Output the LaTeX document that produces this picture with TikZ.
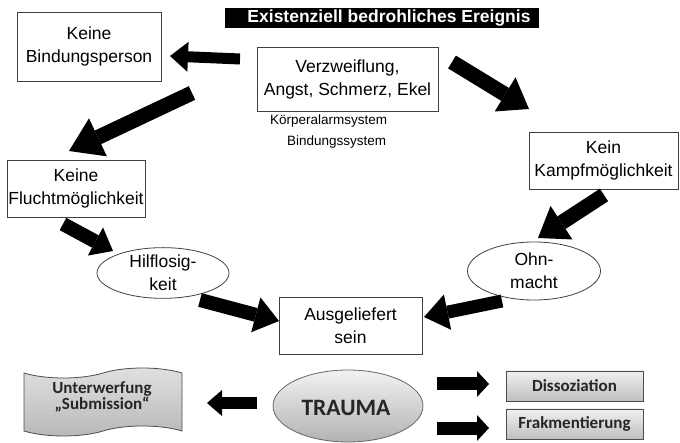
\documentclass[tikz,border=0pt]{standalone}
\usepackage{fontspec}
\setmainfont{Liberation Sans}
\newfontfamily\calib{Carlito}
\usetikzlibrary{arrows.meta,shapes.geometric,shapes.symbols}

\tikzset{
  plainbox/.style={draw=black!75, line width=0.8pt, fill=white, align=center,
    inner sep=0pt, font=\fontsize{17.5}{23}\selectfont},
  oval/.style={ellipse, draw=black!75, line width=0.8pt, fill=white, align=center,
    inner sep=0pt, font=\fontsize{17.5}{23}\selectfont},
  note/.style={font=\fontsize{13.5}{16}\selectfont, inner sep=0pt},
  greybox/.style={draw=black!70, line width=0.8pt, top color=black!6, bottom color=black!25,
    inner sep=0pt, font=\calib\bfseries\fontsize{17}{21}\selectfont, text=black!85},
  fat/.style args={#1/#2/#3}{draw=black, line width=#1,
    -{Triangle[length=#3, width=#2, line width=0pt]}},
}

\begin{document}
\begin{tikzpicture}[x=1pt, y=-1pt]
\useasboundingbox (0,0) rectangle (680,443);

% title banner
\node[fill=black, minimum width=314, minimum height=20, inner sep=0pt] (banner) at (382,18) {};
\node[text=white, font=\bfseries\fontsize{17.5}{20}\selectfont, inner sep=0pt] (bannertext) at (389,18.5)
  {Existenziell bedrohliches Ereignis};

% upper cycle
\node[plainbox, minimum width=181, minimum height=64] (verz) at (347.5,79) {Verzweiflung,\\Angst, Schmerz, Ekel};
\node[note, anchor=west] (koerper) at (270,121) {Körperalarmsystem};
\node[note, anchor=west] (bindsys) at (287,142) {Bindungssystem};

\node[plainbox, minimum width=144, minimum height=69] (bind) at (89,46.5) {Keine\\Bindungsperson};
\node[plainbox, minimum width=138, minimum height=57] (flucht) at (76,188.5) {Keine\\Fluchtmöglichkeit};
\node[plainbox, minimum width=149, minimum height=57] (kampf) at (603.5,160.5) {Kein\\Kampfmöglichkeit};

\node[oval, minimum width=132, minimum height=48] (hilf) at (163,273) {Hilflosig-\\keit};
\node[oval, minimum width=133, minimum height=58] (ohn) at (534,271) {Ohn-\\macht};

\node[plainbox, minimum width=143, minimum height=57] (ausg) at (350.5,325.5) {Ausgeliefert\\sein};

% arrow end points
\coordinate (a1s) at (240,59);   \coordinate (a1e) at (170,56);
\coordinate (a2s) at (192,93);   \coordinate (a2e) at (69,151);
\coordinate (a3s) at (452,62);   \coordinate (a3e) at (529,109);
\coordinate (a4s) at (604,195);  \coordinate (a4e) at (538,238);
\coordinate (a5s) at (63,224);   \coordinate (a5e) at (113,251);
\coordinate (a6s) at (200,300);  \coordinate (a6e) at (279,321);
\coordinate (a7s) at (502,301);  \coordinate (a7e) at (424,317);

\draw[fat={11pt/30pt/18pt}] (a1s) -- (a1e);
\draw[fat={15pt/42pt/32pt}] (a2s) -- (a2e);
\draw[fat={15pt/40pt/28pt}] (a3s) -- (a3e);
\draw[fat={15pt/40pt/28pt}] (a4s) -- (a4e);
\draw[fat={14pt/32pt/20pt}] (a5s) -- (a5e);
\draw[fat={14pt/36pt/24pt}] (a6s) -- (a6e);
\draw[fat={13pt/36pt/24pt}] (a7s) -- (a7e);

% lower part
\node[ellipse, draw=black!60, line width=0.8pt, top color=black!5, bottom color=black!30,
  minimum width=150, minimum height=72, inner sep=0pt] (trauma) at (348,406) {};
\node[font=\calib\bfseries\fontsize{23.5}{26}\selectfont, text=black!85, inner sep=0pt] (traumatext) at (346,408) {TRAUMA};

\node[tape, draw=black!70, line width=0.8pt, top color=black!12, bottom color=black!28,
  minimum width=158, minimum height=68, tape bend height=10pt, inner sep=0pt] (unter) at (103,402) {};
\node[align=center, inner sep=0pt, font=\calib\bfseries\fontsize{17}{15.5}\selectfont, text=black!85]
  (untertext) at (102,397) {Unterwerfung\\„Submission“};

\node[greybox, minimum width=137, minimum height=30] (diss) at (574.5,386) {Dissoziation};
\node[greybox, minimum width=137, minimum height=30] (frak) at (574.5,424) {Frakmentierung};

\coordinate (b1s) at (257,403);  \coordinate (b1e) at (207,403);
\coordinate (b2s) at (437,384);  \coordinate (b2e) at (489,384);
\coordinate (b3s) at (437,428);  \coordinate (b3e) at (489,428);

\draw[fat={12pt/26pt/15pt}] (b1s) -- (b1e);
\draw[fat={13pt/26pt/12pt}] (b2s) -- (b2e);
\draw[fat={13pt/26pt/12pt}] (b3s) -- (b3e);
\end{tikzpicture}
\end{document}
